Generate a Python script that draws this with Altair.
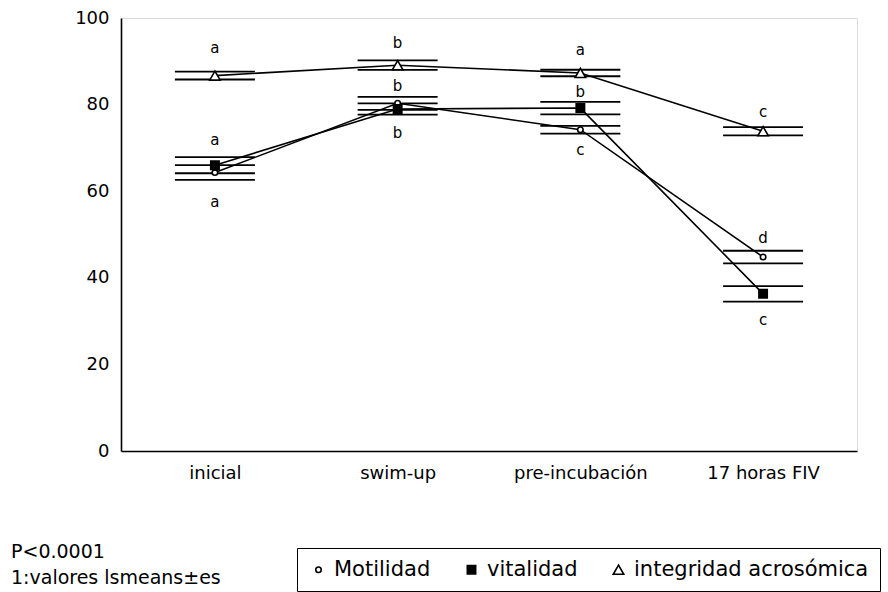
import altair as alt
import pandas as pd

categories = ["inicial", "swim-up", "pre-incubación", "17 horas FIV"]
series_names = ["Motilidad", "vitalidad", "integridad acrosómica"]

motilidad_mean = [64.3, 80.3, 74.2, 44.8]
motilidad_se = [1.7, 1.5, 0.9, 1.45]
vitalidad_mean = [66.0, 79.0, 79.2, 36.3]
vitalidad_se = [1.85, 1.3, 1.45, 1.8]
integridad_mean = [86.7, 89.1, 87.3, 73.85]
integridad_se = [0.9, 1.1, 0.75, 0.95]

# significance letters: (category, value position, letter)
letter_cats = ["inicial", "inicial", "inicial",
               "swim-up", "swim-up", "swim-up",
               "pre-incubación", "pre-incubación", "pre-incubación",
               "17 horas FIV", "17 horas FIV", "17 horas FIV"]
letter_vals = [93.0, 71.8, 57.5, 94.2, 84.3, 73.4, 92.5, 82.9, 69.5, 78.3, 49.2, 30.3]
letter_txt = ["a", "a", "a", "b", "b", "b", "a", "b", "c", "c", "d", "c"]

footnotes = ["P<0.0001", "1:valores lsmeans±es"]

rows = []
for name, means, ses in [(series_names[0], motilidad_mean, motilidad_se),
                         (series_names[1], vitalidad_mean, vitalidad_se),
                         (series_names[2], integridad_mean, integridad_se)]:
    for c, m, s in zip(categories, means, ses):
        rows.append({"cat": c, "serie": name, "mean": m, "lo": m - s, "hi": m + s})
df = pd.DataFrame(rows)
caps = pd.concat([
    df[["cat", "serie", "lo"]].rename(columns={"lo": "v"}),
    df[["cat", "serie", "hi"]].rename(columns={"hi": "v"}),
])
letters = pd.DataFrame({"cat": letter_cats, "v": letter_vals, "t": letter_txt})

FONT = "DejaVu Sans"

xenc = alt.X("cat:N", sort=categories, title=None,
             scale=alt.Scale(type="point", padding=0.514),
             axis=alt.Axis(labelAngle=0, ticks=False, labelFontSize=18,
                           labelPadding=13, labelFont=FONT, labelColor="black",
                           domainColor="black", domainWidth=1.6, grid=False))
yscale = alt.Scale(domain=[0, 100])
yaxis = alt.Axis(values=[0, 20, 40, 60, 80, 100], ticks=False, labelFontSize=18,
                 labelPadding=12, labelFont=FONT, labelColor="black",
                 domainColor="black", domainWidth=1.6, grid=False)

base = alt.Chart(df)

lines = base.mark_line(color="black", strokeWidth=1.6).encode(
    x=xenc,
    y=alt.Y("mean:Q", scale=yscale, axis=yaxis, title=None),
    detail="serie:N",
)

cap_layer = alt.Chart(caps).mark_tick(orient="horizontal", size=80, thickness=1.8,
                                       color="black", opacity=1).encode(
    x=alt.X("cat:N", sort=categories),
    y=alt.Y("v:Q", scale=yscale),
)

leg = alt.Legend(title=None, orient="none", legendX=176, legendY=530,
                 direction="horizontal", columns=3,
                 strokeColor="black", padding=11,
                 labelFontSize=21, labelFont=FONT, labelLimit=400,
                 labelColor="black", columnPadding=30,
                 symbolStrokeWidth=1.6,
                 labelOffset=5)

points = base.mark_point(filled=False, strokeWidth=1.6, opacity=1).encode(
    x=alt.X("cat:N", sort=categories),
    y=alt.Y("mean:Q", scale=yscale),
    shape=alt.Shape("serie:N", sort=series_names,
                    scale=alt.Scale(domain=series_names,
                                    range=["circle", "square", "triangle-up"]),
                    legend=leg),
    fill=alt.Fill("serie:N", sort=series_names,
                  scale=alt.Scale(domain=series_names,
                                  range=["white", "black", "white"]),
                  legend=leg),
    stroke=alt.Stroke("serie:N", sort=series_names,
                      scale=alt.Scale(domain=series_names,
                                      range=["black", "black", "black"]),
                      legend=leg),
    size=alt.Size("serie:N", sort=series_names,
                  scale=alt.Scale(domain=series_names, range=[30, 110, 210]),
                  legend=leg),
)

letter_layer = alt.Chart(letters).mark_text(fontSize=15, font=FONT, color="black").encode(
    x=alt.X("cat:N", sort=categories),
    y=alt.Y("v:Q", scale=yscale),
    text="t:N",
)

foot_df = pd.DataFrame({"t": footnotes})
foot1 = alt.Chart(foot_df).transform_filter(alt.datum.t == footnotes[0]).mark_text(
    fontSize=19, font=FONT, color="black", align="left", baseline="middle"
).encode(x=alt.value(-110), y=alt.value(534), text="t:N")
foot2 = alt.Chart(foot_df).transform_filter(alt.datum.t == footnotes[1]).mark_text(
    fontSize=19, font=FONT, color="black", align="left", baseline="middle"
).encode(x=alt.value(-110), y=alt.value(560), text="t:N")

chart = alt.layer(lines, cap_layer, points, letter_layer, foot1, foot2).properties(
    width=736, height=433,
    padding={"left": 121, "top": 18, "right": 31, "bottom": 141},
    autosize=alt.AutoSizeParams(type="none"),
).configure_view(stroke=None).configure(background="white")

chart.save("out.html", embed_options={"renderer": "svg", "actions": False})
